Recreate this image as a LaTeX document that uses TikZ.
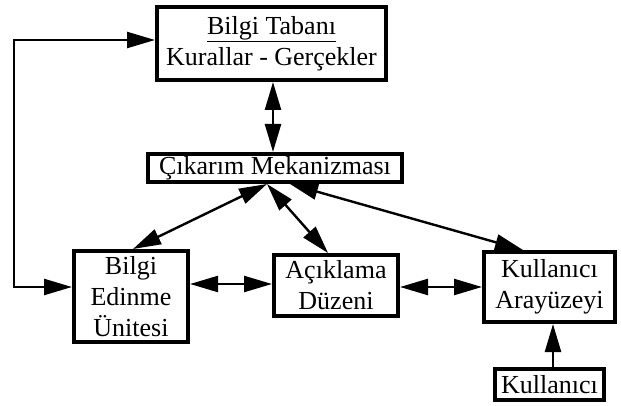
\documentclass[tikz,border=0pt]{standalone}
\usepackage{fontspec}
\setmainfont{Liberation Serif}
\usetikzlibrary{arrows.meta,calc}
\begin{document}
\begin{tikzpicture}[x=1pt,y=-1pt,
  box/.style={draw, line width=4pt, fill=white, inner sep=0pt, align=center,
    font=\fontsize{26}{31}\selectfont},
  tip/.tip={Triangle[length=28pt,width=16pt]},
  conn/.style={line width=2.4pt, tip-tip},
  oneway/.style={line width=2.4pt, -tip}]
\useasboundingbox (0,0) rectangle (621,406);
\node[box, minimum width=229pt, minimum height=73pt] (tab) at (271.5,43.5)
  {\underline{Bilgi Tabanı}\\Kurallar - Gerçekler};
\node[box, minimum width=254pt, minimum height=28pt] (cik) at (275,168)
  {Çıkarım Mekanizması};
\node[box, minimum width=114pt, minimum height=91pt] (edi) at (131,296.5)
  {Bilgi\\Edinme\\Ünitesi};
\node[box, minimum width=124pt, minimum height=61pt] (aci) at (336,285.5)
  {Açıklama\\Düzeni};
\node[box, minimum width=131pt, minimum height=70pt] (ara) at (549.5,287)
  {Kullanıcı\\Arayüzeyi};
\node[box, minimum width=109pt, minimum height=31pt] (kul) at (549.5,384.5)
  {Kullanıcı};
\coordinate (fbtop) at (14,40);
\coordinate (fbbot) at (14,287);
\draw[conn] ([xshift=1.5pt]tab.south) -- ([xshift=1.5pt]tab.south |- cik.north);
\draw[conn, line join=miter] (fbbot -| edi.west) -- (fbbot) -- (fbtop) -- (fbtop -| tab.west);
\draw[conn] ([xshift=2pt]edi.north) -- ([xshift=-8pt]cik.south);
\draw[conn] ([xshift=-8pt]cik.south) -- ([xshift=-8pt]aci.north);
\draw[conn] ([xshift=15pt]cik.south) -- ([xshift=-26.5pt]ara.north);
\draw[conn] ([yshift=1.5pt]edi.east |- aci.west) -- ([yshift=1.5pt]aci.west);
\draw[conn] (aci.east |- ara.west) -- (ara.west);
\draw[oneway] ([xshift=3.5pt]kul.north) -- ([xshift=3.5pt]kul.north |- ara.south);
\end{tikzpicture}
\end{document}
